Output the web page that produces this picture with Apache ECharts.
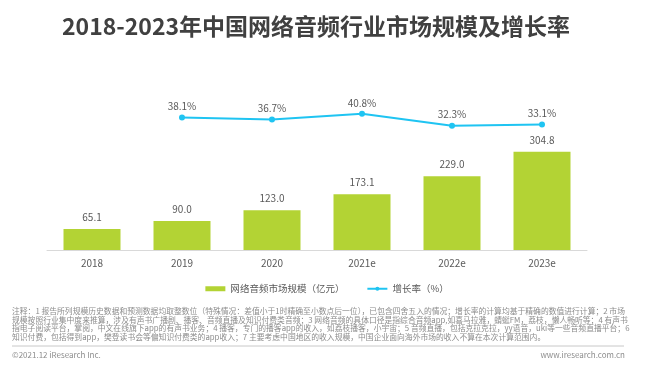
<!DOCTYPE html>
<html>
<head>
<meta charset="utf-8">
<script src="https://cdn.jsdelivr.net/npm/echarts@6/dist/echarts.min.js"></script>
<style>
html,body{margin:0;padding:0;background:#fff;}
#c{width:654px;height:371px;}
</style>
</head>
<body>
<div id="c"></div>
<script>
const categories = ['2018', '2019', '2020', '2021e', '2022e', '2023e'];
const marketSize = [65.1, 90.0, 123.0, 173.1, 229.0, 304.8];
const growthRate = [null, 38.1, 36.7, 40.8, 32.3, 33.1];
const titleText = '2018-2023年中国网络音频行业市场规模及增长率';
const seriesNames = ['网络音频市场规模（亿元）', '增长率（%）'];
const noteLines = [
  '注释：1 报告所列规模历史数据和预测数据均取整数位（特殊情况：差值小于1时精确至小数点后一位），已包含四舍五入的情况；增长率的计算均基于精确的数值进行计算；2 市场',
  '规模按照行业集中度来推算，涉及有声书广播剧、播客、音频直播及知识付费类音频；3 网络音频的具体口径是指综合音频app,如喜马拉雅，蜻蜓FM，荔枝，懒人畅听等；4 有声书',
  '指电子阅读平台，掌阅，中文在线旗下app的有声书业务；4 播客，专门的播客app的收入，如荔枝播客，小宇宙；5 音频直播，包括克拉克拉，yy语音，uki等一些音频直播平台；6',
  '知识付费，包括得到app，樊登读书会等偏知识付费类的app收入；7 主要考虑中国地区的收入规模，中国企业面向海外市场的收入不算在本次计算范围内。'
];
const copyrightText = '©2021.12 iResearch Inc.';
const siteText = 'www.iresearch.com.cn';

const FONT = '"Noto Sans CJK SC", "Noto Sans", sans-serif';
const chart = echarts.init(document.getElementById('c'), null, {renderer: 'canvas'});

const graphics = [{
  type: 'text', x: 12, y: 306.5, silent: true,
  style: {text: noteLines.join('\n'), fontFamily: FONT, fontSize: 7.8, lineHeight: 8.8,
    fill: '#8c8c8c', align: 'left', verticalAlign: 'top'}
}];
graphics.push({
  type: 'line', shape: {x1: 12, y1: 346, x2: 624, y2: 346},
  style: {stroke: '#c8c8c8', lineWidth: 1}
});
graphics.push({
  type: 'text', x: 12, y: 355,
  style: {text: copyrightText, fontFamily: FONT, fontSize: 8, fill: '#8c8c8c', align: 'left', verticalAlign: 'middle'}
});
graphics.push({
  type: 'text', x: 625, y: 355,
  style: {text: siteText, fontFamily: FONT, fontSize: 8, fill: '#8c8c8c', align: 'right', verticalAlign: 'middle'}
});

chart.setOption({
  backgroundColor: '#fff',
  animation: false,
  title: {
    text: titleText, left: 62, top: 15, padding: 0,
    textStyle: {fontFamily: FONT, fontSize: 23, fontWeight: 'bold', color: '#404040'}
  },
  legend: {
    top: 279, left: 'center', itemGap: 22, itemWidth: 20, itemHeight: 5,
    textStyle: {fontFamily: FONT, fontSize: 9.5, color: '#595959'},
    data: [
      {name: seriesNames[0], icon: 'rect'},
      {name: seriesNames[1]}
    ]
  },
  grid: {left: 47, right: 67, top: 105, bottom: 121, containLabel: false},
  xAxis: {
    type: 'category', data: categories,
    axisLine: {lineStyle: {color: '#d9d9d9', width: 1}},
    axisTick: {show: false},
    axisLabel: {fontFamily: FONT, fontSize: 10, color: '#595959', margin: 8}
  },
  yAxis: [
    {type: 'value', min: 0, max: 450, show: false, splitLine: {show: false}},
    {type: 'value', min: -56, max: 47, show: false, splitLine: {show: false}}
  ],
  series: [
    {
      name: seriesNames[0], type: 'bar', data: marketSize, barWidth: 57,
      itemStyle: {color: '#b3d334'},
      label: {show: true, position: 'top', distance: 7, fontFamily: FONT, fontSize: 10, color: '#595959',
        formatter: p => p.value.toFixed(1)}
    },
    {
      name: seriesNames[1], type: 'line', yAxisIndex: 1, data: growthRate,
      symbol: 'circle', symbolSize: 6, connectNulls: false,
      lineStyle: {color: '#1fc4f2', width: 2},
      itemStyle: {color: '#1fc4f2'},
      label: {show: true, position: 'top', distance: 3, fontFamily: FONT, fontSize: 10, color: '#595959',
        formatter: p => p.value.toFixed(1) + '%'}
    }
  ],
  graphic: graphics
});
</script>
</body>
</html>
